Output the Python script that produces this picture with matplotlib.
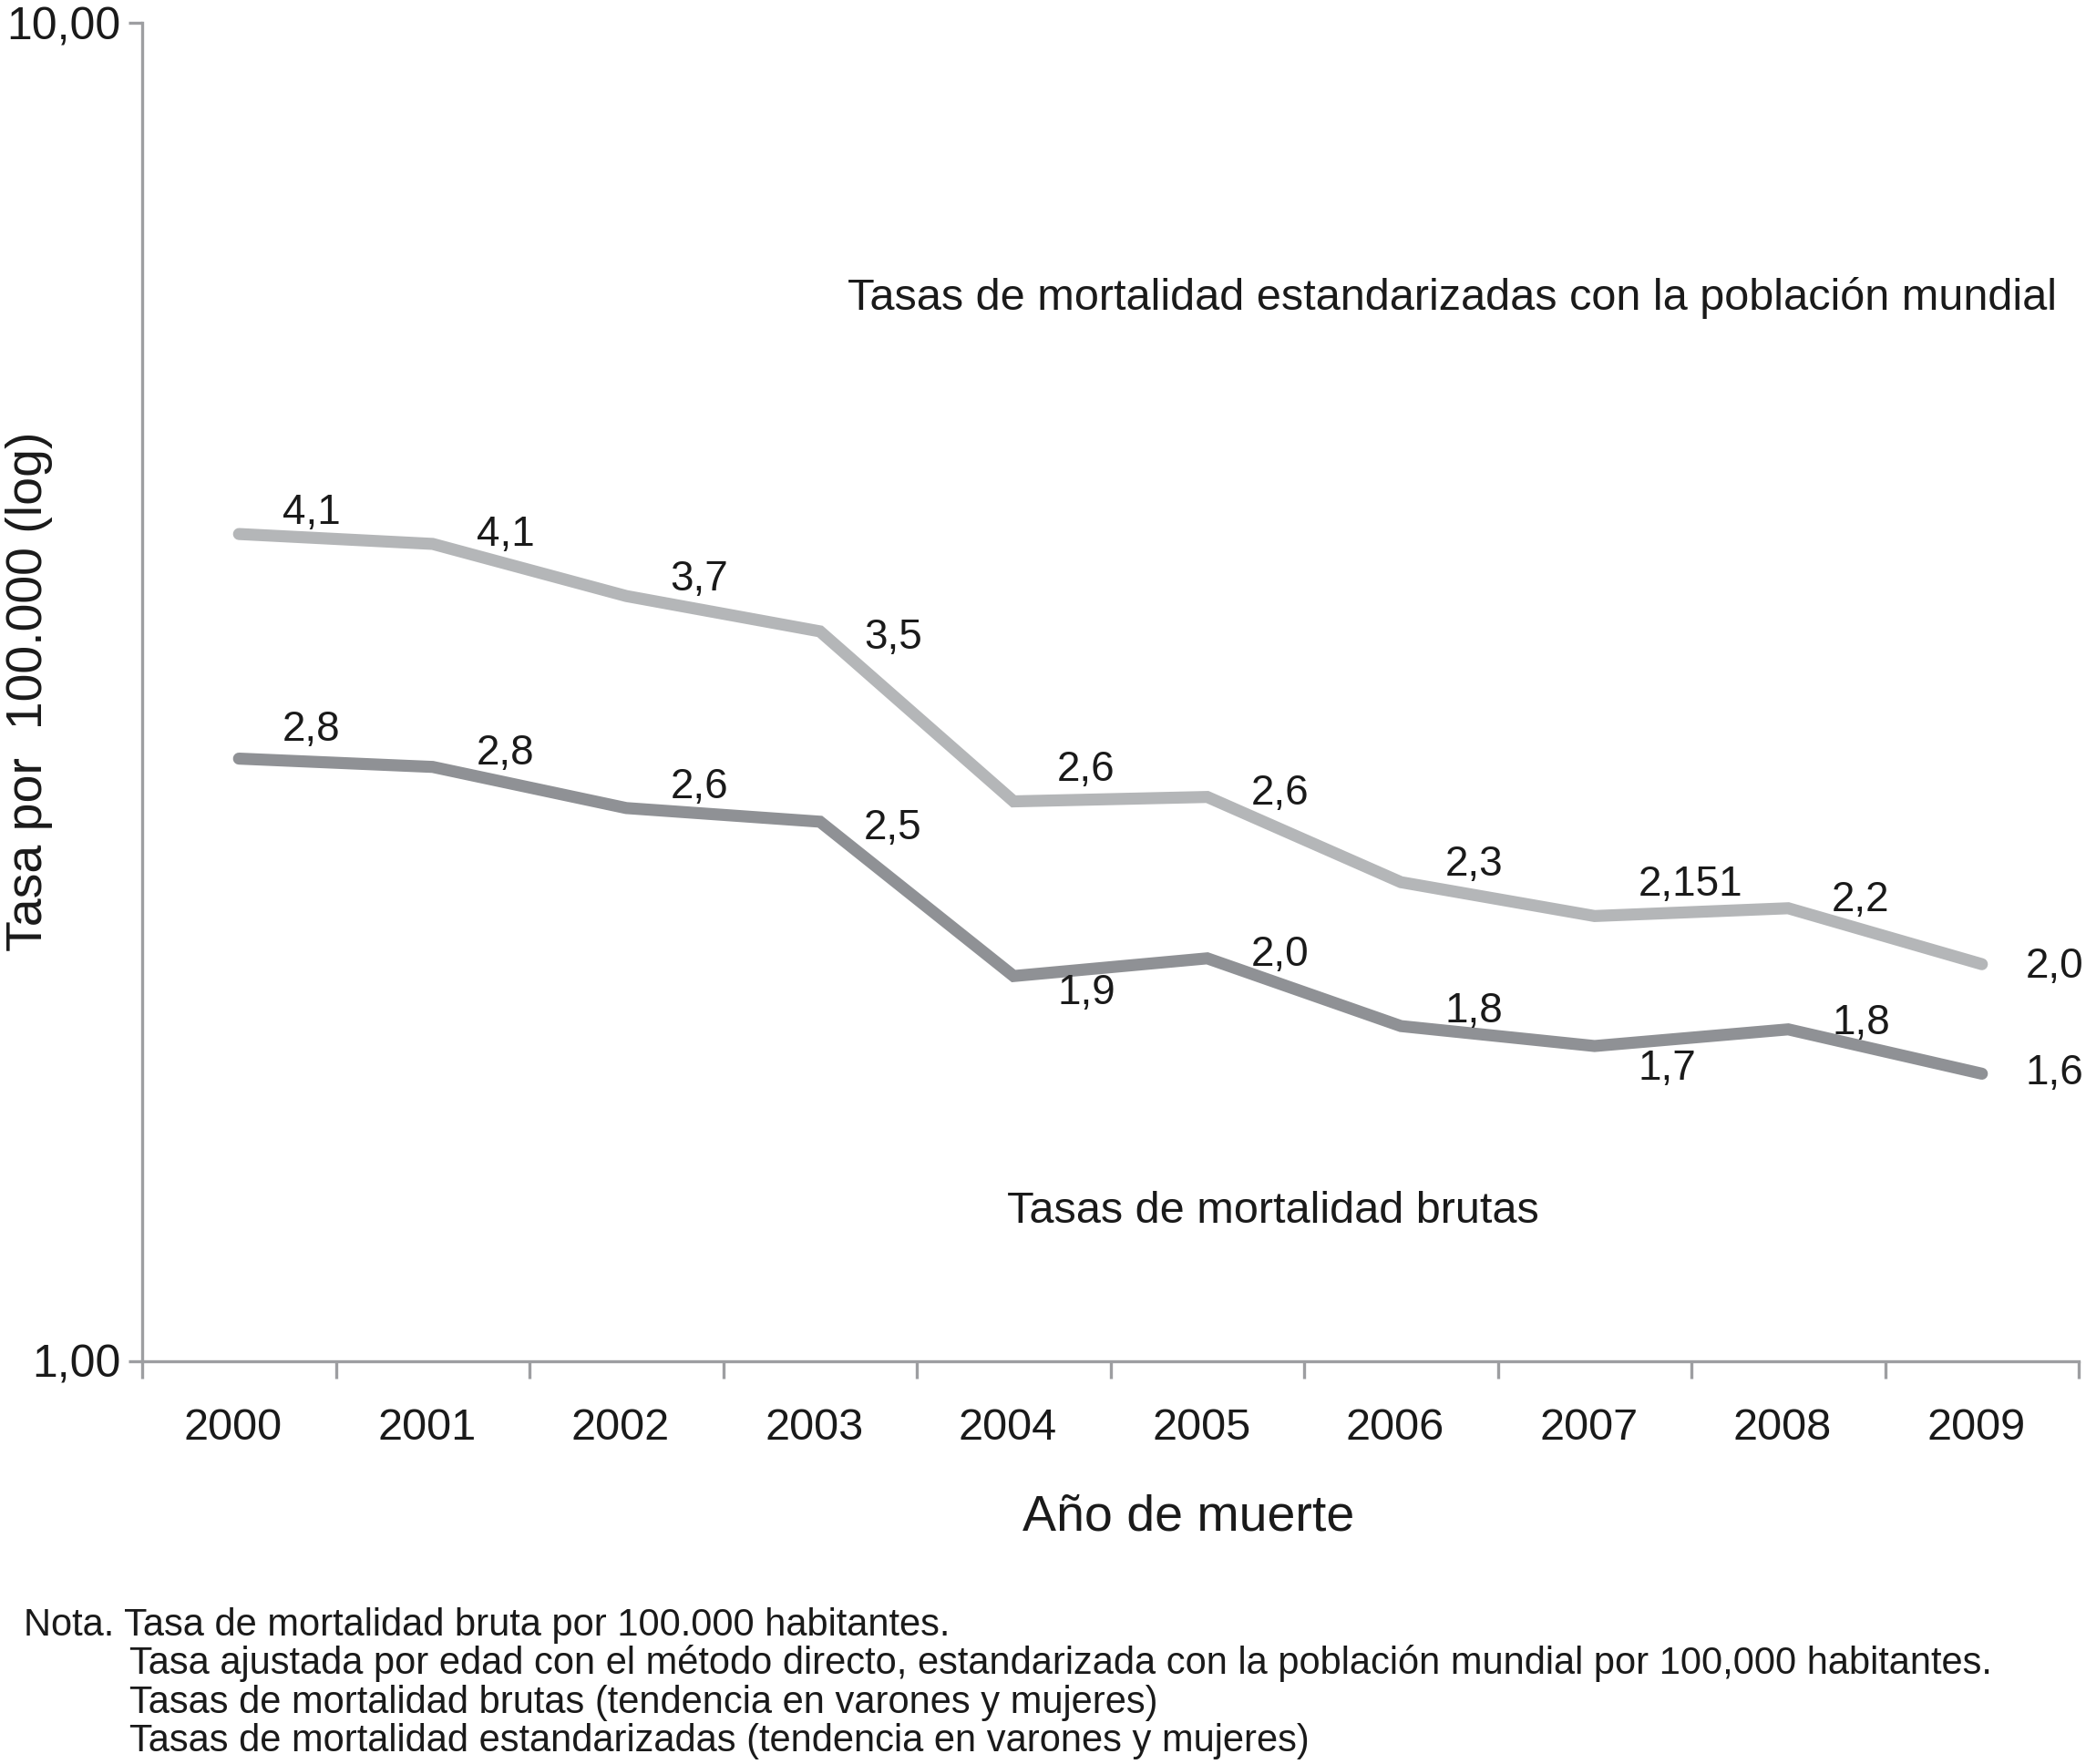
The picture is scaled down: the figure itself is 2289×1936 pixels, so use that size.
import matplotlib
matplotlib.use("Agg")
import matplotlib.pyplot as plt

# =========================
# Data
# =========================
years = ["2000", "2001", "2002", "2003", "2004", "2005", "2006", "2007", "2008", "2009"]

# age-standardised rates (world population)
std_rates = [4.15, 4.08, 3.73, 3.51, 2.62, 2.64, 2.28, 2.151, 2.18, 1.98]
std_labels = ["4,1", "4,1", "3,7", "3,5", "2,6", "2,6", "2,3", "2,151", "2,2", "2,0"]

# crude rates
crude_rates = [2.82, 2.78, 2.59, 2.53, 1.94, 2.00, 1.78, 1.72, 1.77, 1.64]
crude_labels = ["2,8", "2,8", "2,6", "2,5", "1,9", "2,0", "1,8", "1,7", "1,8", "1,6"]

y_ticks = [1, 10]
y_tick_labels = ["1,00", "10,00"]

notes = [
    "Nota. Tasa de mortalidad bruta por 100.000 habitantes.",
    "Tasa ajustada por edad con el método directo, estandarizada con la población mundial por 100,000 habitantes.",
    "Tasas de mortalidad brutas (tendencia en varones y mujeres)",
    "Tasas de mortalidad estandarizadas (tendencia en varones y mujeres)",
]

# label offsets in pixels (dy), placement only
std_dy = [23, 10, 18, -7, 35, 4, 19, 34, 9, -3]
crude_dy = [32, 15, 23, -7, -19, 4, 16, -25, 7, 0]
LABEL_DX = 48

# =========================
# Style
# =========================
W, H, DPI = 2289, 1936, 100
FONT = ["Liberation Sans", "DejaVu Sans"]
AXIS_COLOR = "#9d9ea1"
STD_COLOR = "#b4b6b8"
CRUDE_COLOR = "#8f9195"
TEXT_COLOR = "#1a1a1a"

plt.rcParams["font.family"] = FONT


def px(x, y):
    """pixel position (from top-left) -> figure fraction"""
    return x / W, 1 - y / H


fig = plt.figure(figsize=(W / DPI, H / DPI), dpi=DPI)
ax = fig.add_axes([156 / W, 1 - 1494 / H, (2281 - 156) / W, (1494 - 25) / H])

x = list(range(len(years)))
ax.plot(x, std_rates, color=STD_COLOR, lw=9.5, solid_capstyle="round", solid_joinstyle="miter")
ax.plot(x, crude_rates, color=CRUDE_COLOR, lw=9.5, solid_capstyle="round", solid_joinstyle="miter")

for xi, v, lab, dy in zip(x, std_rates, std_labels, std_dy):
    ax.annotate(lab, (xi, v), xytext=(LABEL_DX, dy), textcoords="offset pixels",
                ha="left", va="center", fontsize=33, color=TEXT_COLOR)
for xi, v, lab, dy in zip(x, crude_rates, crude_labels, crude_dy):
    ax.annotate(lab, (xi, v), xytext=(LABEL_DX, dy), textcoords="offset pixels",
                ha="left", va="center", fontsize=33, color=TEXT_COLOR)

ax.set_yscale("log")
ax.set_ylim(1, 10)
ax.set_xlim(-0.5, len(years) - 0.5)

ax.set_yticks(y_ticks)
ax.set_yticklabels(y_tick_labels)
ax.yaxis.set_minor_locator(matplotlib.ticker.NullLocator())
ax.tick_params(axis="y", length=11, width=2.4, color=AXIS_COLOR, labelsize=36,
               labelcolor=TEXT_COLOR, pad=6)

# category axis: ticks between categories, labels centred
ax.set_xticks([i - 0.5 for i in range(len(years) + 1)])
ax.set_xticklabels([])
ax.tick_params(axis="x", length=14, width=2.4, color=AXIS_COLOR)
for xi, yr in zip(x, years):
    ax.text(xi - 0.03, -0.05, yr, transform=ax.get_xaxis_transform(), ha="center", va="center",
            fontsize=35, color=TEXT_COLOR)

for side in ["top", "right"]:
    ax.spines[side].set_visible(False)
for side in ["left", "bottom"]:
    ax.spines[side].set_color(AXIS_COLOR)
    ax.spines[side].set_linewidth(2.4)

# axis titles
fig.text(*px(1304, 1666), "Año de muerte", ha="center", va="center", fontsize=40, color=TEXT_COLOR)
fig.text(*px(32, 759), "Tasa por  100.000 (log)", ha="center", va="center", rotation=90,
         fontsize=40, color=TEXT_COLOR)

# series names inside the plot
fig.text(*px(930, 327), "Tasas de mortalidad estandarizadas con la población mundial",
         ha="left", va="center", fontsize=35, color=TEXT_COLOR)
fig.text(*px(1105, 1329), "Tasas de mortalidad brutas",
         ha="left", va="center", fontsize=35, color=TEXT_COLOR)

# notes under the chart
note_pos = [(26, 1784), (142, 1826), (142, 1869), (142, 1911)]
for (nx, ny), line in zip(note_pos, notes):
    fig.text(*px(nx, ny), line, ha="left", va="center", fontsize=30, color=TEXT_COLOR)

fig.savefig("out.png", dpi=DPI)
plt.close(fig)
